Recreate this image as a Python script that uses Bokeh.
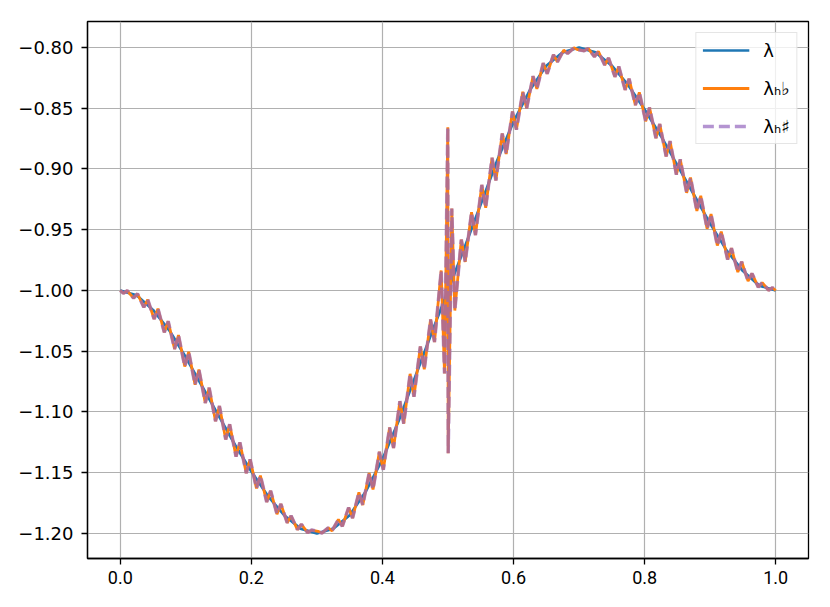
from bokeh.plotting import figure
from bokeh.models import FixedTicker, CustomJSTickFormatter, Legend, LegendItem
from bokeh.embed import file_html
from bokeh.resources import INLINE

# smooth coefficient lambda
lam_x = [0.0, 0.025, 0.05, 0.075, 0.1, 0.125, 0.15, 0.175, 0.2, 0.225, 0.25,
         0.275, 0.3, 0.325, 0.35, 0.375, 0.4, 0.425, 0.45, 0.475, 0.5,
         0.525, 0.55, 0.575, 0.6, 0.625, 0.65, 0.675, 0.7, 0.725, 0.75,
         0.775, 0.8, 0.825, 0.85, 0.875, 0.9, 0.925, 0.95, 0.975, 1.0]
lam_y = [-1.000, -1.004, -1.016, -1.033, -1.055, -1.079, -1.103, -1.127, -1.149, -1.169, -1.185,
         -1.196, -1.200, -1.196, -1.185, -1.165, -1.139, -1.107, -1.071, -1.035, -1.000,
         -0.965, -0.929, -0.893, -0.861, -0.835, -0.815, -0.804, -0.800, -0.804, -0.815,
         -0.831, -0.851, -0.873, -0.897, -0.921, -0.945, -0.967, -0.984, -0.996, -1.000]

# discrete approximations (zig-zag)
h_x = [0.0,
       0.0047, 0.0106, 0.0203, 0.0263, 0.0359, 0.0419, 0.0516, 0.0575,
       0.0672, 0.0731, 0.0828, 0.0888, 0.0984, 0.1044, 0.1141, 0.1200,
       0.1297, 0.1356, 0.1453, 0.1513, 0.1609, 0.1669, 0.1766, 0.1825,
       0.1922, 0.1981, 0.2078, 0.2138, 0.2234, 0.2294, 0.2391, 0.2450,
       0.2547, 0.2606, 0.2703, 0.2763, 0.2859, 0.2919, 0.3016, 0.3075,
       0.3172, 0.3231, 0.3328, 0.3388, 0.3484, 0.3544, 0.3641, 0.3700,
       0.3797, 0.3856, 0.3953, 0.4013, 0.4109, 0.4169, 0.4266, 0.4325,
       0.4422, 0.4481, 0.4578, 0.4638, 0.4734, 0.4794, 0.4896, 0.4947,
       0.4997, 0.5003,
       0.5058, 0.5104, 0.5203, 0.5263, 0.5359, 0.5419, 0.5516, 0.5575,
       0.5672, 0.5731, 0.5828, 0.5888, 0.5984, 0.6044, 0.6141, 0.6200,
       0.6297, 0.6356, 0.6453, 0.6513, 0.6609, 0.6669, 0.6766, 0.6825,
       0.6922, 0.6981, 0.7078, 0.7138, 0.7234, 0.7294, 0.7391, 0.7450,
       0.7547, 0.7606, 0.7703, 0.7763, 0.7859, 0.7919, 0.8016, 0.8075,
       0.8172, 0.8231, 0.8328, 0.8388, 0.8484, 0.8544, 0.8641, 0.8700,
       0.8797, 0.8856, 0.8953, 0.9013, 0.9109, 0.9169, 0.9266, 0.9325,
       0.9422, 0.9481, 0.9578, 0.9638, 0.9734, 0.9794, 0.9891, 0.9950,
       1.0]
lam_flat_y = [-1.0,
       -1.0023, -1.0002, -1.0063, -1.0027, -1.0138, -1.0075, -1.0235, -1.0150,
       -1.0345, -1.0253, -1.0482, -1.0367, -1.0626, -1.0505, -1.0776, -1.0651,
       -1.0926, -1.0801, -1.1076, -1.0951, -1.1226, -1.1101, -1.1367, -1.1251,
       -1.1504, -1.1390, -1.1629, -1.1524, -1.1741, -1.1649, -1.1841, -1.1757,
       -1.1912, -1.1855, -1.1968, -1.1924, -1.1993, -1.1972, -1.1982, -1.1997,
       -1.1953, -1.1978, -1.1884, -1.1941, -1.1787, -1.1873, -1.1662, -1.1766,
       -1.1502, -1.1638, -1.1328, -1.1476, -1.1128, -1.1296, -1.0911, -1.1096,
       -1.0686, -1.0874, -1.0461, -1.0649, -1.0239, -1.0424, -0.9835, -1.0683,
       -0.8656, -1.1340,
       -0.9325, -1.0165, -0.9581, -0.9765, -0.9356, -0.9544, -0.9131, -0.9319,
       -0.8908, -0.9094, -0.8708, -0.8876, -0.8527, -0.8676, -0.8365, -0.8501,
       -0.8236, -0.8341, -0.8129, -0.8216, -0.8060, -0.8118, -0.8022, -0.8049,
       -0.8003, -0.8018, -0.8028, -0.8007, -0.8075, -0.8032, -0.8144, -0.8086,
       -0.8241, -0.8157, -0.8349, -0.8257, -0.8474, -0.8369, -0.8607, -0.8494,
       -0.8746, -0.8630, -0.8896, -0.8771, -0.9046, -0.8921, -0.9196, -0.9071,
       -0.9346, -0.9221, -0.9492, -0.9371, -0.9630, -0.9515, -0.9745, -0.9652,
       -0.9848, -0.9763, -0.9923, -0.9860, -0.9973, -0.9935, -0.9998, -0.9977,
       -1.0]
lam_sharp_y = list(lam_flat_y)

x_ticks = [0.0, 0.2, 0.4, 0.6, 0.8, 1.0]
y_ticks = [-1.20, -1.15, -1.10, -1.05, -1.00, -0.95, -0.90, -0.85, -0.80]
labels = ["λ", "λₕ♭", "λₕ♯"]

p = figure(width=822, height=599, x_range=(-0.05, 1.05), y_range=(-1.2206, -0.7786),
           output_backend="svg", toolbar_location=None,
           min_border_left=87, min_border_right=14, min_border_top=21, min_border_bottom=41)
p.background_fill_color = "white"
p.border_fill_color = "white"
p.outline_line_color = "black"
p.outline_line_width = 1.3
p.outline_line_alpha = 1.0

r1 = p.line(lam_x, lam_y, line_color="#1f77b4", line_width=2.7)
r2 = p.line(h_x, lam_flat_y, line_color="#ff7f0e", line_width=2.8)
r3 = p.line(h_x, lam_sharp_y, line_color="#9467bd", line_width=3.5, line_alpha=0.7,
            line_dash="11 5")

p.xaxis.ticker = FixedTicker(ticks=x_ticks)
p.yaxis.ticker = FixedTicker(ticks=y_ticks)
p.xaxis.formatter = CustomJSTickFormatter(code="return (tick < -1e-9 ? '\\u2212' : '') + Math.abs(tick).toFixed(1);")
p.yaxis.formatter = CustomJSTickFormatter(code="return (tick < -1e-9 ? '\\u2212' : '') + Math.abs(tick).toFixed(2);")

for ax in (p.xaxis, p.yaxis):
    ax.axis_line_color = "black"
    ax.axis_line_width = 1.3
    ax.major_tick_line_color = "black"
    ax.major_tick_line_width = 1.3
    ax.major_tick_out = 6
    ax.major_tick_in = 0
    ax.minor_tick_line_color = None
    ax.major_label_text_color = "black"
    ax.major_label_text_font_size = "18px"
p.xaxis.major_label_text_font = "Roboto"
p.yaxis.major_label_text_font = "DejaVu Sans"
p.xaxis.major_label_standoff = 6
p.yaxis.major_label_standoff = 8

p.grid.grid_line_color = "#b0b0b0"
p.grid.grid_line_width = 1.2

legend = Legend(items=[LegendItem(label=labels[0], renderers=[r1]),
                       LegendItem(label=labels[1], renderers=[r2]),
                       LegendItem(label=labels[2], renderers=[r3])],
                location="top_right")
legend.margin = 11
legend.padding = 6
legend.spacing = 16
legend.glyph_width = 47
legend.glyph_height = 22
legend.label_height = 22
legend.label_standoff = 14
legend.label_text_font = "DejaVu Sans"
legend.label_text_font_size = "18px"
legend.label_text_color = "black"
legend.border_line_color = "#cccccc"
legend.border_line_width = 1.3
legend.background_fill_alpha = 0.8
p.add_layout(legend)

open("out.html", "w").write(file_html(p, INLINE))
